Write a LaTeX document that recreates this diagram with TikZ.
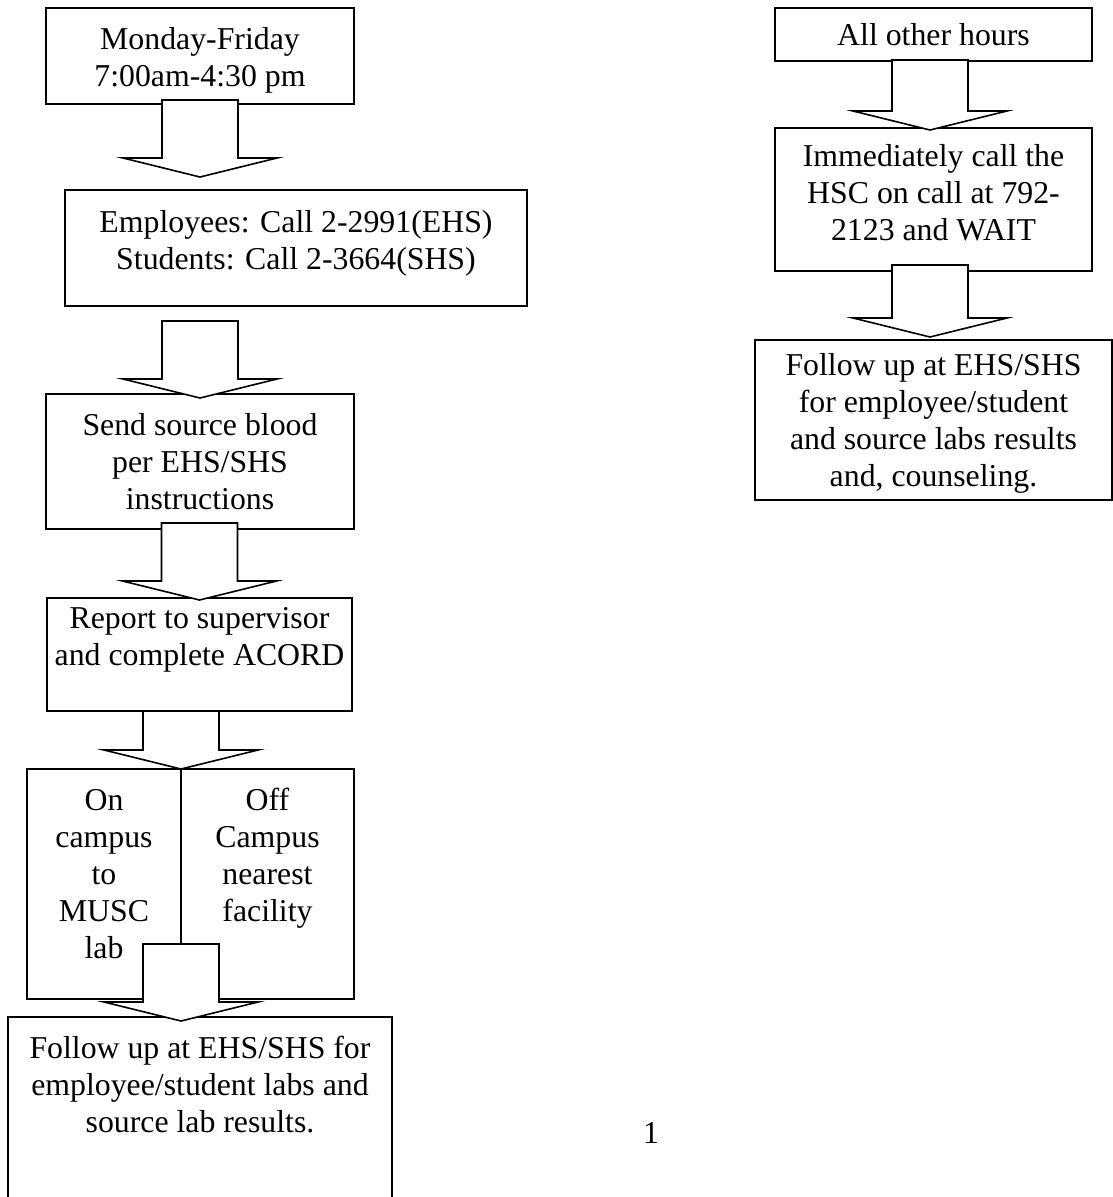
\documentclass[tikz,border=0pt]{standalone}
\usepackage{fontspec}
\setmainfont{Liberation Serif}
\usetikzlibrary{calc,positioning}
\tikzset{%
    box/.style = {
        rectangle, draw=black, line width=1.8pt, inner sep=0pt, outer sep=0pt,
        align=flush center, font=\fontsize{31.8}{37}\selectfont
    },
    fatarrow/.style = {draw=black, fill=white, line width=1.6pt, line join=miter},
}
% block arrow: shaft top taken from #1, tip at #2
\newcommand{\blockarrow}[2]{%
    \draw[fatarrow] let \p1=#1, \p2=#2 in
        (\x2-38pt,\y1) -- (\x2-38pt,\y2+19pt) -- (\x2-77pt,\y2+19pt)
        -- (\x2,\y2) -- (\x2+77pt,\y2+19pt) -- (\x2+38pt,\y2+19pt)
        -- (\x2+38pt,\y1) -- cycle;
}

\begin{document}
\begin{tikzpicture}[x=1pt, y=-1pt]
        \useasboundingbox (0,0) rectangle (1113,1197);

        % Nodes position, weekday hours
        \node (monFri)     [box, text width=308pt, text height=41pt, text depth=55pt,
                            anchor=north west] at (46,8)
                            {Monday-Friday\\7:00am-4:30 pm};
        \node (callBox)    [box, text width=462pt, text height=42pt, text depth=74pt,
                            below=86pt of monFri.south west, anchor=north west, xshift=19pt]
                            {Employees: Call 2-2991(EHS)\\Students: Call 2-3664(SHS)};
        \node (sendBlood)  [box, text width=308pt, text height=41pt, text depth=94pt,
                            below=88pt of callBox.south west, anchor=north west, xshift=-19pt]
                            {Send source blood\\per EHS/SHS\\instructions};
        \node (report)     [box, text width=305pt, text height=30pt, text depth=83pt,
                            below=69pt of sendBlood.south west, anchor=north west, xshift=1pt]
                            {Report to supervisor\\and complete ACORD};
        \node (onCampus)   [box, text width=154pt, text height=41pt, text depth=189pt,
                            below=58pt of report.south west, anchor=north west, xshift=-20pt]
                            {On\\campus\\to\\MUSC\\lab};
        \node (offCampus)  [box, text width=173pt, text height=41pt, text depth=189pt,
                            right=0pt of onCampus.north east, anchor=north west]
                            {Off\\Campus\\nearest\\facility};
        \node (followLeft) [box, text width=384pt, text height=41pt, text depth=147pt,
                            below=18pt of onCampus.south west, anchor=north west, xshift=-19pt]
                            {Follow up at EHS/SHS for\\employee/student labs and\\source lab results.};

        % Nodes position, all other hours
        \node (otherHours)  [box, text width=317pt, text height=37pt, text depth=16pt,
                             anchor=north west] at (775,8)
                             {All other hours};
        \node (callHSC)     [box, text width=317pt, text height=38pt, text depth=105pt,
                             below=67pt of otherHours.south west, anchor=north west]
                             {Immediately call the\\HSC on call at 792-\\2123 and WAIT};
        \node (followRight) [box, text width=357pt, text height=35pt, text depth=125pt,
                             below=69pt of callHSC.south west, anchor=north west, xshift=-20pt]
                             {Follow up at EHS/SHS\\for employee/student\\and source labs results\\and, counseling.};

        \node (pageNum) [font=\fontsize{31.8}{37}\selectfont, anchor=base] at (651,1143) {1};

        % Arrow specification
        \blockarrow{($(monFri.south)+(0,-4)$)}{($(callBox.north -| monFri.south)+(0,-13)$)}
        \blockarrow{($(callBox.south)+(0,15)$)}{($(sendBlood.north)+(0,4)$)}
        \blockarrow{($(sendBlood.south)+(0,-6)$)}{($(report.north)+(0,2)$)}
        \blockarrow{(report.south)}{(onCampus.north east)}
        \blockarrow{($(onCampus.south east)+(0,-55)$)}{($(followLeft.north -| onCampus.north east)+(0,4)$)}
        \blockarrow{($(otherHours.south)+(0,-1)$)}{($(callHSC.north)+(-3.5,2)$)}
        \blockarrow{($(callHSC.south)+(0,-6)$)}{($(followRight.north)+(-3.5,-3)$)}
    \end{tikzpicture}
\end{document}
